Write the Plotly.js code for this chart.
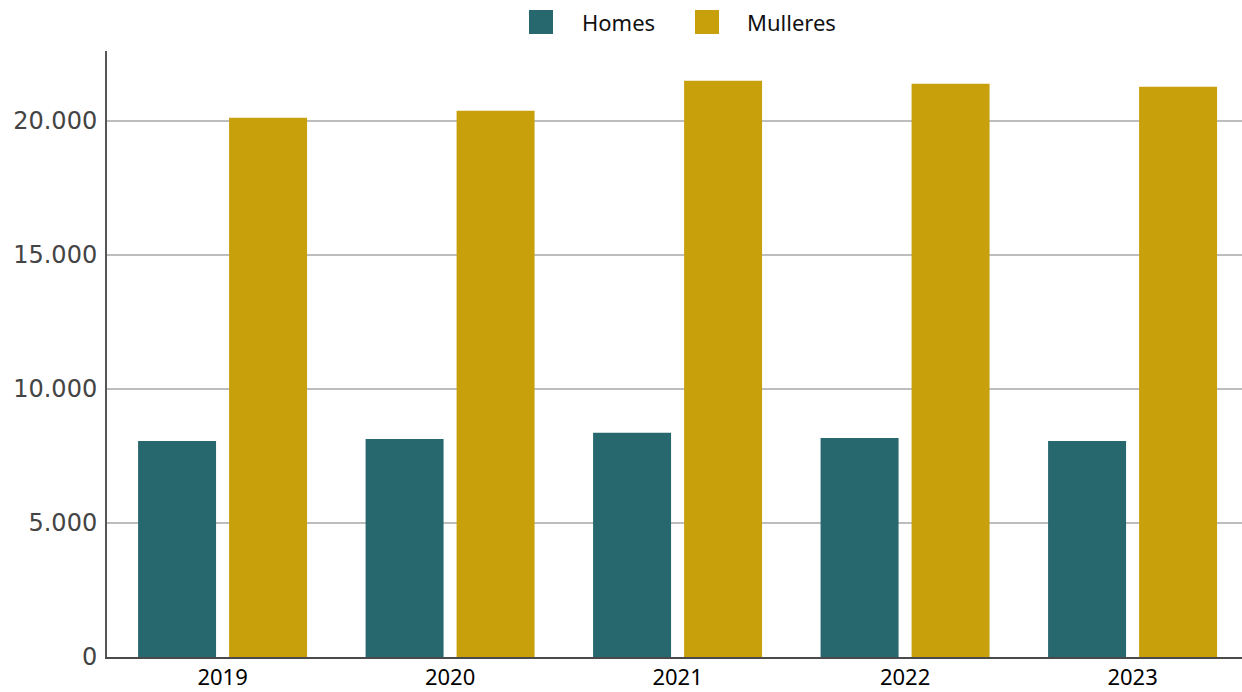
<!DOCTYPE html>
<html>
<head>
<meta charset="utf-8">
<script src="https://cdn.plot.ly/plotly-3.0.1.min.js"></script>
<style>html,body{margin:0;padding:0;background:#fff;}#chart{width:1242px;height:692px;}</style>
</head>
<body>
<div id="chart"></div>
<script>
const years = ["2019", "2020", "2021", "2022", "2023"];
const homes = [8060, 8130, 8360, 8170, 8060];
const mulleres = [20110, 20370, 21490, 21380, 21270];
const seriesNames = ["Homes", "Mulleres"];
const colors = ["#26686E", "#C8A00C"];

const W = 1242, H = 692;
const margin = {l: 107, r: 0, t: 51, b: 35};
const pw = W - margin.l - margin.r, ph = H - margin.t - margin.b;
const px = x => (x - margin.l) / pw;
const py = y => (H - margin.b - y) / ph;

const traces = [
  {type: "bar", x: years, y: homes, name: seriesNames[0], marker: {color: colors[0]}, showlegend: false, hoverinfo: "x+y+name"},
  {type: "bar", x: years, y: mulleres, name: seriesNames[1], marker: {color: colors[1]}, showlegend: false, hoverinfo: "x+y+name"}
];

// custom legend (large swatches)
const legendItems = [
  {sx: 529, tx: 581},
  {sx: 695, tx: 746}
];
const shapes = legendItems.map((it, i) => ({
  type: "rect", xref: "paper", yref: "paper",
  x0: px(it.sx), x1: px(it.sx + 24), y0: py(34), y1: py(10),
  fillcolor: colors[i], line: {width: 0}
}));
const annotations = legendItems.map((it, i) => ({
  xref: "paper", yref: "paper", x: px(it.tx), y: py(22),
  xanchor: "left", yanchor: "middle", showarrow: false,
  text: seriesNames[i], borderpad: 0,
  font: {family: "Noto Sans", size: 22, color: "#111"}
}));

const layout = {
  width: W, height: H,
  margin: margin,
  paper_bgcolor: "#fff", plot_bgcolor: "#fff",
  separators: ",.",
  barmode: "group",
  bargap: 0.2,
  bargroupgap: 0.143,
  showlegend: false,
  xaxis: {
    type: "category",
    range: [-0.508, 4.481],
    showline: true, linecolor: "#4a4a4a", linewidth: 2,
    showgrid: false, ticks: "",
    ticklabelstandoff: 0,
    tickfont: {family: "Noto Sans", size: 22, color: "#000"},
    fixedrange: true
  },
  yaxis: {
    range: [0, 22600],
    dtick: 5000, tick0: 0,
    tickformat: ",d",
    showline: true, linecolor: "#555", linewidth: 2,
    showgrid: true, gridcolor: "#bdbdbd", gridwidth: 2,
    zeroline: false,
    ticks: "",
    ticklabelstandoff: 3,
    tickfont: {family: "DejaVu Sans", size: 24, color: "#444"},
    fixedrange: true
  },
  shapes: shapes,
  annotations: annotations
};

Plotly.newPlot("chart", traces, layout, {displayModeBar: false, staticPlot: true});
</script>
</body>
</html>
